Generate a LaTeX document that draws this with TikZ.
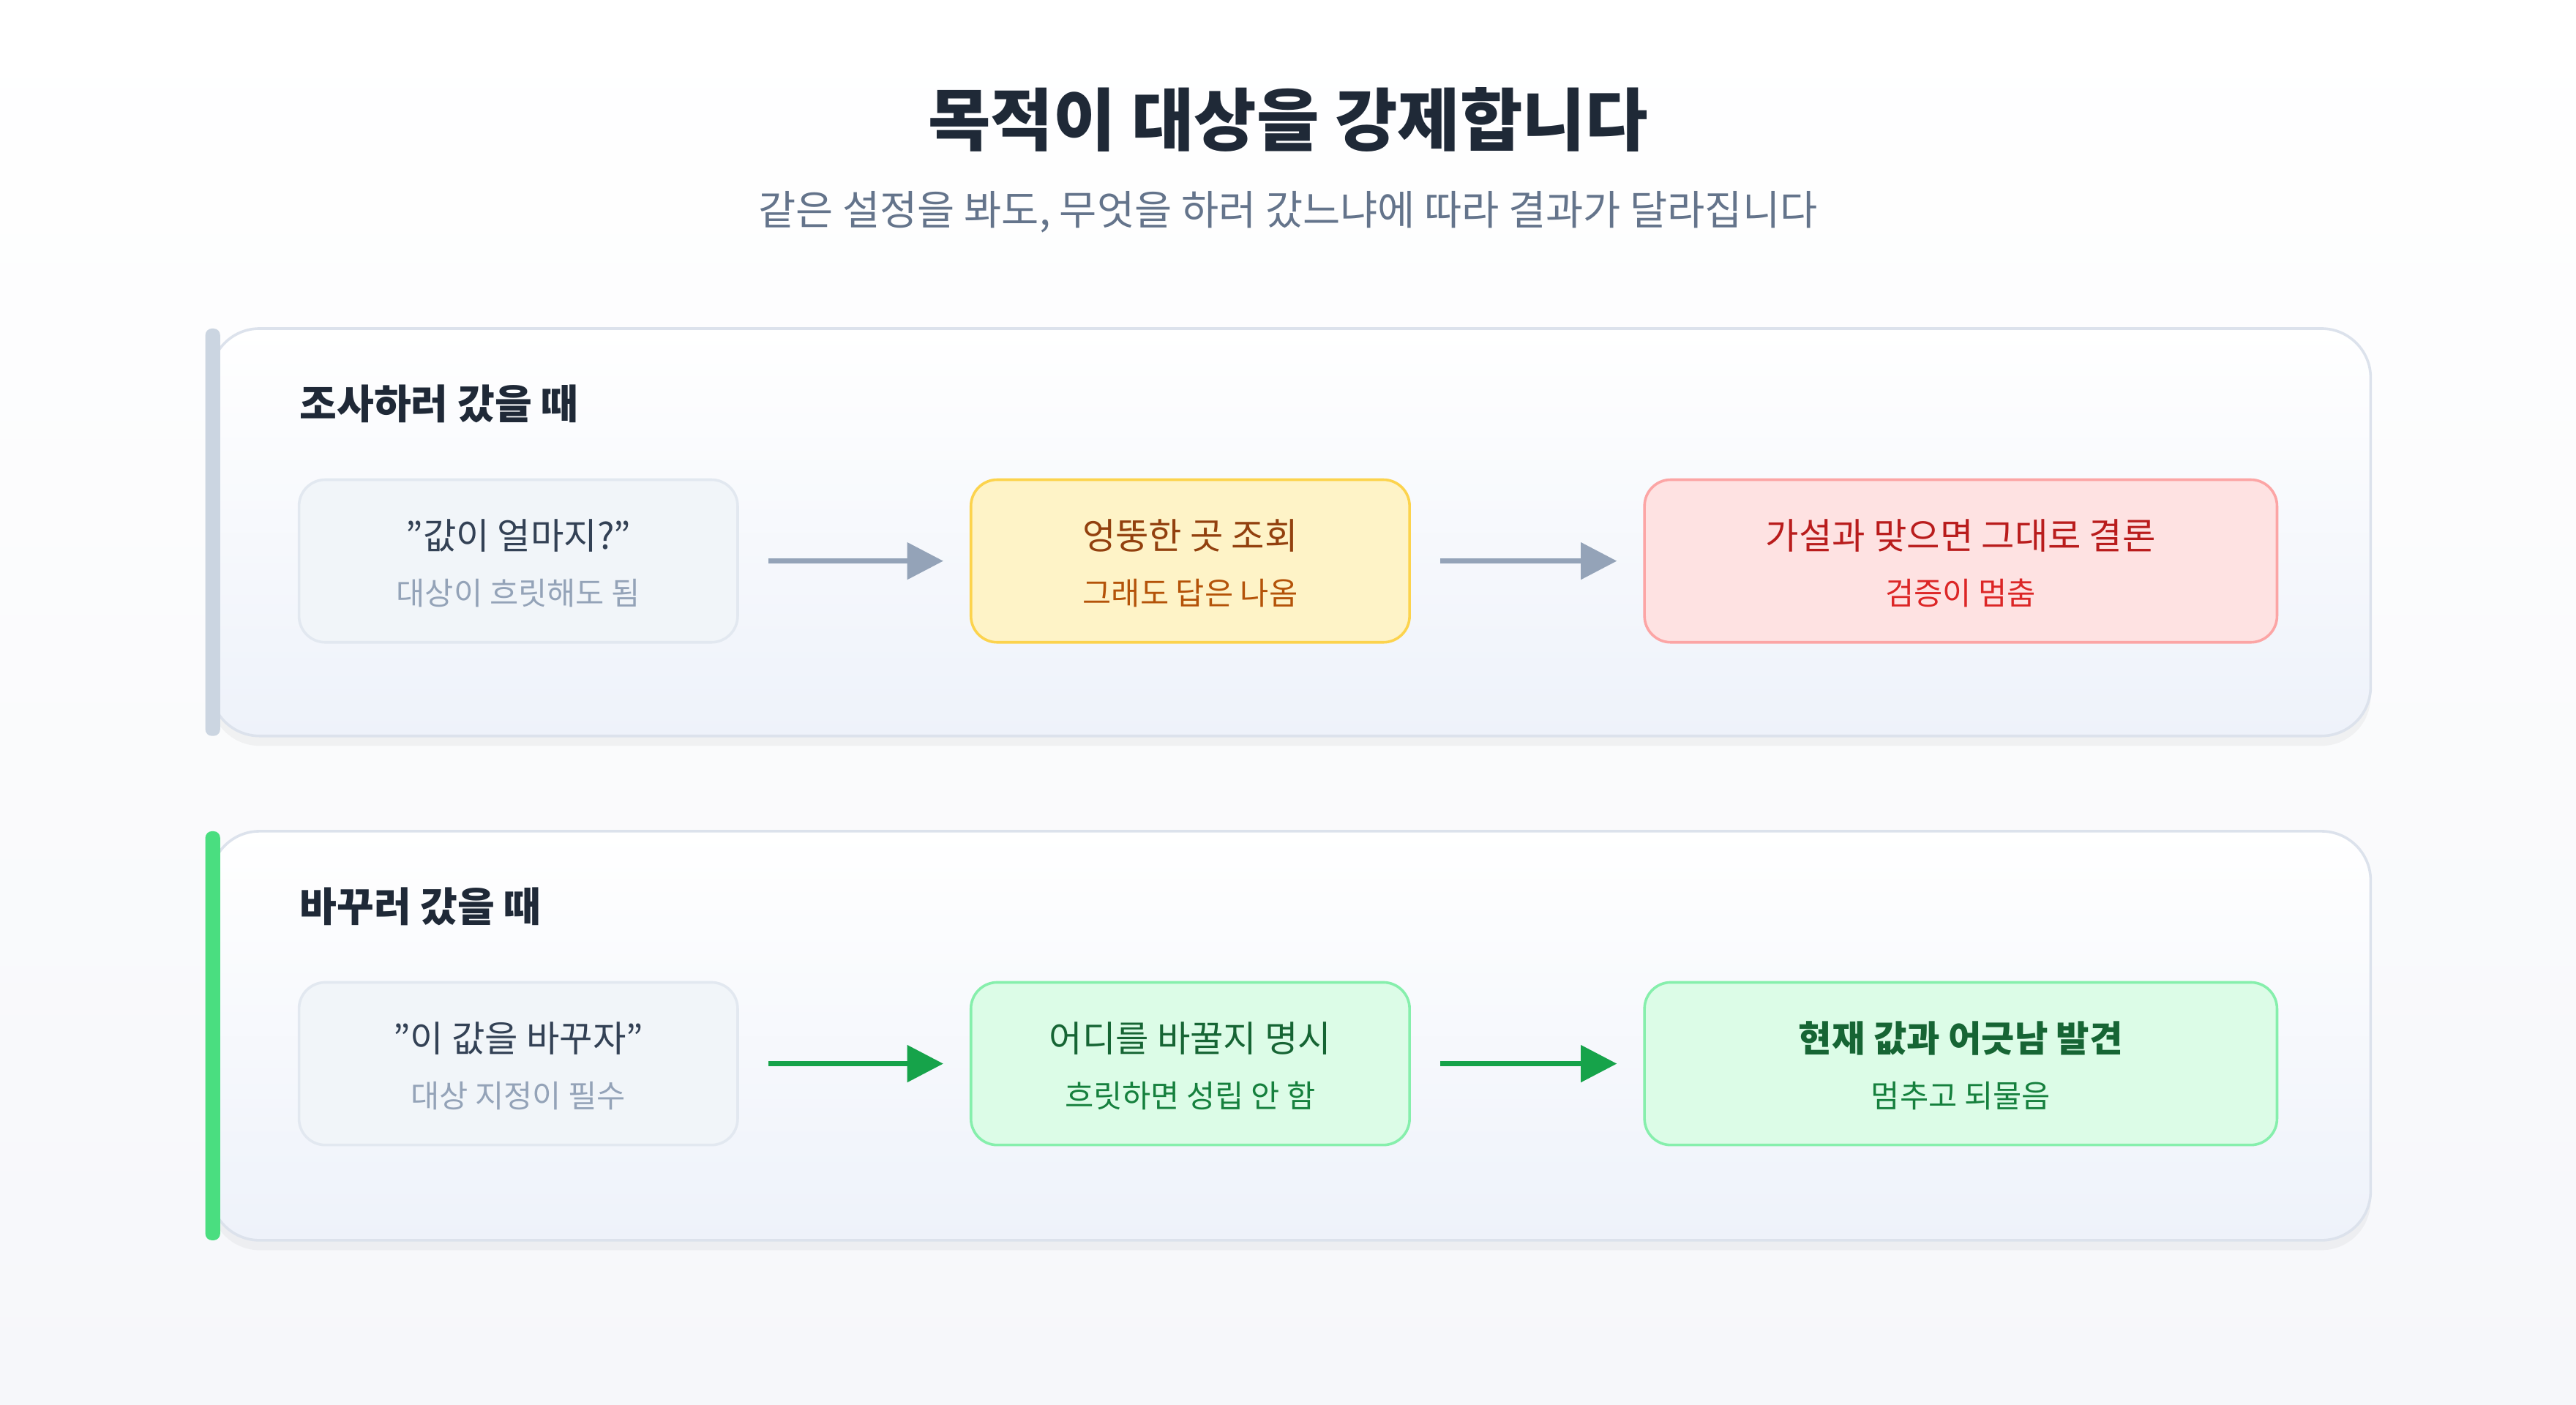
\documentclass[tikz,border=0pt]{standalone}
\usepackage{fontspec}
\setmainfont{Noto Sans CJK KR}[Ligatures=NoCommon]
\usetikzlibrary{arrows.meta,shadows}
\definecolor{bg}{HTML}{F6F7FA}
\definecolor{title}{HTML}{1F2937}
\definecolor{subt}{HTML}{64748B}
\definecolor{pborder}{HTML}{DCE2EC}
\definecolor{pbot}{HTML}{EEF2FA}
\definecolor{gfill}{HTML}{F1F5F9}\definecolor{gbord}{HTML}{E2E8F0}\definecolor{gtext}{HTML}{334155}\definecolor{gsub}{HTML}{94A3B8}
\definecolor{yfill}{HTML}{FEF3C7}\definecolor{ybord}{HTML}{FCD34D}\definecolor{ytext}{HTML}{92400E}\definecolor{ysub}{HTML}{B45309}
\definecolor{rfill}{HTML}{FEE2E2}\definecolor{rbord}{HTML}{FCA5A5}\definecolor{rtext}{HTML}{B91C1C}\definecolor{rsub}{HTML}{DC2626}
\definecolor{nfill}{HTML}{DCFCE7}\definecolor{nbord}{HTML}{86EFAC}\definecolor{ntext}{HTML}{166534}\definecolor{nsub}{HTML}{15803D}
\definecolor{garrow}{HTML}{94A3B8}\definecolor{narrow}{HTML}{16A34A}
\definecolor{gbar}{HTML}{CBD5E1}\definecolor{nbar}{HTML}{4ADE80}
\begin{document}
\begin{tikzpicture}[x=0.5pt,y=-0.5pt,
 panel/.style={draw=pborder,line width=0.8pt,rounded corners=15pt,top color=white,bottom color=pbot,drop shadow={opacity=0.08,shadow xshift=0pt,shadow yshift=-3pt}},
 box/.style={rounded corners=8pt,line width=0.8pt,minimum height=49.5pt,align=center,inner sep=0pt},
 main/.style={font=\fontsize{11}{13}\selectfont},
 sub/.style={font=\fontsize{9.5}{11}\selectfont},
 arr/.style={line width=1.6pt,-{Triangle[length=11pt,width=11pt]}},
 head/.style={font=\bfseries\fontsize{12.3}{15}\selectfont,text=title,anchor=west,inner sep=0pt}]
\fill[top color=white,bottom color=bg] (0,0) rectangle (1568,855);
\useasboundingbox (0,0) rectangle (1568,855);
\node[font=\bfseries\fontsize{20.7}{24}\selectfont,text=title] (t) at (784,73) {목적이 대상을 강제합니다};
\node[font=\fontsize{12.4}{14}\selectfont,text=subt] (s) at (784,129) {같은 설정을 봐도, 무엇을 하러 갔느냐에 따라 결과가 달라집니다};
% panel 1
\path[panel] (128,200) rectangle (1443,448);
\fill[gbar,rounded corners=2pt] (125,200) rectangle (134,448);
\node[head] (h1) at (182,246) {조사하러 갔을 때};
\node[box,draw=gbord,fill=gfill,minimum width=133.5pt] (a1) at (315.5,341.5) {};
\node[main,text=gtext] at (315.5,326) {\symbol{34}값이 얼마지?\symbol{34}};
\node[sub,text=gsub] at (315.5,361) {대상이 흐릿해도 됨};
\node[box,draw=ybord,fill=yfill,minimum width=133.5pt] (a2) at (724.5,341.5) {};
\node[main,text=ytext] at (724.5,326) {엉뚱한 곳 조회};
\node[sub,text=ysub] at (724.5,361) {그래도 답은 나옴};
\node[box,draw=rbord,fill=rfill,minimum width=192.5pt] (a3) at (1193.5,341.5) {};
\node[main,text=rtext] at (1193.5,326) {가설과 맞으면 그대로 결론};
\node[sub,text=rsub] at (1193.5,361) {검증이 멈춤};
\draw[arr,garrow] ([xshift=9pt]a1.east) -- ([xshift=-8pt]a2.west);
\draw[arr,garrow] ([xshift=9pt]a2.east) -- ([xshift=-8pt]a3.west);
% panel 2
\path[panel] (128,506) rectangle (1443,755);
\fill[nbar,rounded corners=2pt] (125,506) rectangle (134,755);
\node[head] (h2) at (182,552) {바꾸러 갔을 때};
\node[box,draw=gbord,fill=gfill,minimum width=133.5pt] (b1) at (315.5,647.5) {};
\node[main,text=gtext] at (315.5,632) {\symbol{34}이 값을 바꾸자\symbol{34}};
\node[sub,text=gsub] at (315.5,667) {대상 지정이 필수};
\node[box,draw=nbord,fill=nfill,minimum width=133.5pt] (b2) at (724.5,647.5) {};
\node[main,text=ntext] at (724.5,632) {어디를 바꿀지 명시};
\node[sub,text=nsub] at (724.5,667) {흐릿하면 성립 안 함};
\node[box,draw=nbord,fill=nfill,minimum width=192.5pt] (b3) at (1193.5,647.5) {};
\node[main,text=ntext,font=\bfseries\fontsize{11}{13}\selectfont] at (1193.5,632) {현재 값과 어긋남 발견};
\node[sub,text=nsub] at (1193.5,667) {멈추고 되물음};
\draw[arr,narrow] ([xshift=9pt]b1.east) -- ([xshift=-8pt]b2.west);
\draw[arr,narrow] ([xshift=9pt]b2.east) -- ([xshift=-8pt]b3.west);
\end{tikzpicture}
\end{document}
